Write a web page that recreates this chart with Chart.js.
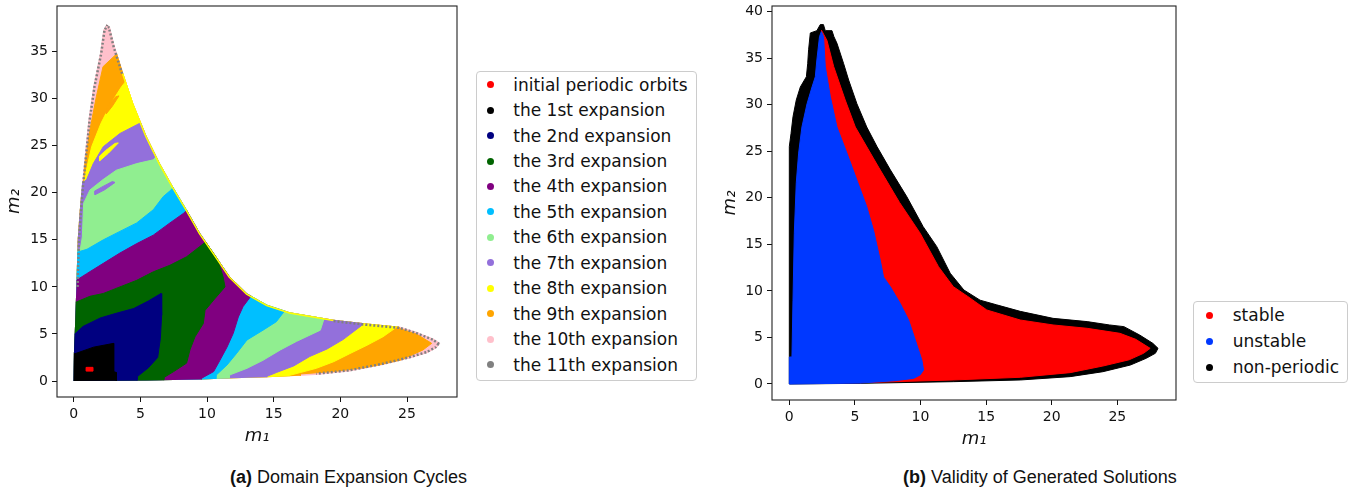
<!DOCTYPE html>
<html>
<head>
<meta charset="utf-8">
<title>Domain expansion cycles and solution validity</title>
<script src="https://cdn.jsdelivr.net/npm/chart.js@4.4.1/dist/chart.umd.min.js"></script>
<style>
  body { margin: 0; width: 1359px; height: 490px; background: #fff; position: relative; overflow: hidden; font-family: 'DejaVu Sans', sans-serif; }
  .panel { position: absolute; top: 0; }
  .legend { position: absolute; box-sizing: border-box; border: 1px solid #ccc; border-radius: 4px; background: #fff; font-size: 17px; color: #111; }
  .legend .row { display: flex; align-items: center; white-space: nowrap; }
  .legend .dot { width: 7px; height: 7px; border-radius: 50%; flex: none; }
  .caption { position: absolute; top: 467px; font-family: 'Liberation Sans', Arial, sans-serif; font-size: 18px; color: #111; white-space: nowrap; }
</style>
</head>
<body>
<canvas id="expansionChart" class="panel" style="left:0" width="460" height="450"></canvas>
<div id="expansionLegend" class="legend" style="left:476px; top:71px; width:221px; height:310px;"></div>
<canvas id="validityChart" class="panel" style="left:720px" width="460" height="455"></canvas>
<div id="validityLegend" class="legend" style="left:1193px; top:301px; width:155px; height:82px;"></div>
<div class="caption" style="left:230px;"><b>(a)</b> Domain Expansion Cycles</div>
<div class="caption" style="left:903px;"><b>(b)</b> Validity of Generated Solutions</div>
<script>
// ---- tick values ----
const m1Ticks = [0, 5, 10, 15, 20, 25];
const m2TicksA = [0, 5, 10, 15, 20, 25, 30, 35];
const m2TicksB = [0, 5, 10, 15, 20, 25, 30, 35, 40];

// ---- (a) expansion cycles ----
const expansionLabels = ['initial periodic orbits', 'the 1st expansion', 'the 2nd expansion', 'the 3rd expansion',
  'the 4th expansion', 'the 5th expansion', 'the 6th expansion', 'the 7th expansion', 'the 8th expansion',
  'the 9th expansion', 'the 10th expansion', 'the 11th expansion'];
const expansionColors = ['#ff0000', '#000000', '#000080', '#006400', '#800080', '#00bfff', '#90ee90',
  '#9370db', '#ffff00', '#ffa500', '#ffc0cb', '#808080'];

// outer edge of everything reached after the last expansion, [m1, m2]
const domainEdge = [[0, 0], [0.02, 3], [0.08, 5], [0.2, 10], [0.3, 15], [0.45, 18], [0.6, 20.6], [0.85, 24.2],
  [1.1, 27.7], [1.47, 31.3], [1.97, 34.8], [2.22, 37.3], [2.47, 37.9], [2.72, 37.65], [3.1, 35.5], [3.72, 32.7],
  [4.47, 29.5], [5.47, 26], [6.47, 23.1], [7.47, 20.6], [8.48, 18.2], [9.48, 15.7], [10.5, 13.6], [11.7, 11.1],
  [13, 9.3], [14.5, 8.1], [16.2, 7.3], [19.5, 6.5], [22, 6.1], [24.5, 5.77], [25.7, 5.24], [27, 4.5], [27.5, 4.0],
  [27.2, 3.47], [26.5, 2.94], [25.2, 2.4], [23.2, 1.7], [20.7, 1.0], [18.2, 0.64], [14.5, 0.4], [12, 0.28],
  [9.5, 0.17], [5.5, 0.05]];

const initialOrbits = [[0.95, 1.05], [1.45, 1.05], [1.45, 1.45], [0.95, 1.45]];

// area covered up to cycle k; points past the edge get clipped to domainEdge
const cycle1 = [[-2, 2.9], [0.1, 2.9], [1.5, 3.6], [3.0, 4.0], [3.0, 1.0], [3.2, 0.9], [3.2, -2], [-2, -2]];
const cycle2 = [[-2, 5.0], [0.1, 5.0], [0.7, 5.8], [2.0, 6.7], [3.2, 7.2], [4.5, 7.7], [5.6, 8.5], [6.55, 9.3],
  [6.6, 7.0], [6.5, 4.5], [6.3, 2.5], [5.6, 1.4], [4.8, 0.5], [4.6, -2], [-2, -2]];
const cycle3 = [[-2, 8.4], [0.2, 8.4], [1.22, 9.0], [2.22, 9.3], [3.47, 10.0], [4.73, 10.7], [5.97, 11.6],
  [7.22, 12.3], [8.47, 13.2], [9.47, 14.3], [10.0, 14.9], [10.5, 14.2], [11.2, 11.1], [11.35, 10.0], [10.5, 8.6],
  [9.85, 7.5], [9.72, 6.1], [9.1, 4.7], [8.72, 3.3], [8.47, 1.9], [7.5, 1.0], [6.8, 0.4], [6.6, -2], [-2, -2]];
const cycle4 = [[-2, 10.7], [0.2, 10.7], [0.97, 11.4], [2.22, 12.5], [3.47, 13.6], [4.73, 14.6], [5.97, 15.5],
  [7.22, 16.8], [8.22, 17.8], [9, 18.8], [12, 13.2], [13.6, 9.6], [12.7, 7.9], [12.35, 6.8], [11.97, 5.07],
  [11.5, 3.6], [10.97, 2.2], [10.5, 1.0], [9.6, 0.3], [9.4, -2], [-2, -2]];
const cycle5 = [[-2, 13.7], [0.3, 13.7], [1.0, 14.0], [2.22, 15.0], [3.47, 15.9], [4.73, 16.8], [5.97, 18.2],
  [6.72, 19.6], [7.3, 20.3], [8, 21.5], [15.5, 9], [15.9, 7.6], [15.2, 6.3], [14.2, 5.4], [13, 4.36], [12.2, 2.9],
  [11.5, 1.7], [10.7, 0.64], [10.6, -2], [-2, -2]];
const cycle6 = [[-2, 13.9], [0.5, 14.0], [0.65, 15.3], [0.75, 18.9], [1.22, 20.3], [2.2, 21.4], [3.2, 22.4],
  [4.73, 23.1], [5.97, 23.5], [6.6, 24.5], [19, 8], [18.8, 6.7], [18.5, 5.4], [16.7, 4.2], [15.5, 3.3],
  [14.2, 2.2], [13, 1.35], [11.7, 0.64], [11.5, -2], [-2, -2]];
const cycle7 = [[-2, 21.0], [0.6, 21.0], [0.97, 21.4], [1.47, 23.1], [2.22, 24.9], [3.47, 26.3], [4.97, 27.4],
  [5.6, 28.5], [22, 7.2], [21.6, 5.9], [20.2, 4.4], [19, 3.4], [17.7, 2.6], [16.5, 1.6], [15.2, 0.9],
  [14.5, 0.5], [14.3, -2], [-2, -2]];
const cycle8 = [[-2, 20.0], [0.6, 20.0], [0.72, 20.6], [0.95, 22.4], [1.35, 24.9], [2.05, 27.4], [2.8, 29.5],
  [3.6, 31.3], [4.3, 32.5], [25, 7], [24.2, 5.7], [23.2, 4.7], [22, 3.8], [20.7, 2.9], [19.5, 2.05],
  [18.2, 1.35], [17, 0.9], [16.2, 0.6], [16, -2], [-2, -2]];
const cycle9 = [[-2, 19], [0.5, 19], [0.72, 20.6], [0.85, 23.2], [1.22, 26.7], [1.7, 30.2], [2.2, 33.4],
  [3.1, 34.6], [4.0, 35.5], [24, 6.4], [24.5, 5.55], [25.7, 5.0], [26.85, 4.0], [26.2, 3.3], [24.5, 2.2],
  [22, 1.45], [19.5, 1.0], [17, 0.75], [17, -2], [-2, -2]];

// thin fingers of a later cycle reaching into the previous band
const wisp7 = [[1.6, 19.8], [2.3, 20.3], [3.1, 21.1], [2.9, 21.2], [2.1, 20.6], [1.6, 20.2]];
const wisp8 = [[1.95, 23.4], [2.6, 24.2], [3.35, 25.3], [3.1, 25.25], [2.4, 24.5], [1.95, 23.9]];
const wisp9 = [[2.45, 28.4], [2.9, 29.2], [3.4, 30.3], [3.15, 30.2], [2.7, 29.5], [2.45, 28.9]];

// ---- (b) validity ----
const validityLabels = ['stable', 'unstable', 'non-periodic'];
const validityColors = ['#ff0000', '#0038ff', '#000000'];

const nonPeriodicEdge = [[0, 0], [0, 25.5], [0.13, 26.9], [0.28, 28.7], [0.53, 30.5], [0.84, 31.9], [1.3, 33],
  [1.4, 34.4], [1.47, 35.9], [1.6, 37.7], [2.1, 37.95], [2.36, 38.6], [2.6, 38.6], [2.74, 37.95], [3.25, 37.95],
  [3.4, 37.3], [3.63, 36.6], [4.14, 34.4], [4.52, 32.65], [5.15, 30.1], [5.9, 27.6], [6.68, 25.5], [7.7, 23],
  [8.96, 20.1], [10.2, 16.9], [11.24, 14.75], [12.26, 11.9], [13.3, 10.1], [14.54, 9.0], [15.8, 8.5],
  [17.6, 7.8], [20.1, 7.05], [22.7, 6.7], [24.4, 6.34], [25.5, 6.16], [26.7, 5.26], [27.7, 4.37], [28.1, 3.83],
  [27.9, 3.3], [27.2, 2.76], [26, 2.04], [23.9, 1.32], [21.4, 0.79], [17.6, 0.43], [12.5, 0.25], [5.4, 0.07]];
const stableEdge = [[2.45, 38.0], [2.87, 36.9], [3.38, 34.1], [4.26, 30.5], [5.03, 27.6], [6.8, 23.3],
  [8.4, 19.5], [9.97, 16.2], [11.37, 12.6], [12.5, 10.45], [13.6, 9.4], [15.05, 7.95], [17.6, 6.87],
  [20.1, 6.34], [22.7, 5.98], [25.2, 5.44], [26.4, 4.8], [27.5, 3.83], [27.0, 3.3], [25.9, 2.6], [23.9, 1.93],
  [21.4, 1.22], [17.6, 0.72], [12.5, 0.43], [5.4, 0.14], [2, 0.1], [2, 25], [2.5, 36]];
const unstableEdge = [[0, 0], [0, 2.9], [0.2, 2.9], [0.28, 9], [0.38, 16.2], [0.53, 21.6], [0.71, 24.8],
  [0.96, 27.6], [1.35, 30.1], [1.73, 31.9], [1.98, 33], [2.1, 34.8], [2.3, 37.3], [2.44, 37.85], [2.61, 37.3],
  [2.74, 34.1], [3.12, 30.9], [3.63, 27.6], [4.39, 24.8], [5.15, 21.9], [5.9, 19.05], [6.42, 16.5],
  [6.93, 13.3], [7.18, 11.5], [7.7, 10.45], [8.45, 8.66], [9.09, 6.87], [9.6, 4.73], [10.1, 2.58],
  [10.23, 1.5], [9.97, 0.97], [9.47, 0.6], [8.0, 0.35], [5.4, 0.1]];

const FONT = 'DejaVu Sans';

// filled polygon through the scatter scales
function region(label, pts, color, order = 0) {
  const closed = pts.concat([pts[0]]);
  return {
    label, order,
    data: closed.map(([x, y]) => ({ x, y })),
    showLine: true, fill: 'shape', tension: 0,
    backgroundColor: color, borderColor: color, borderWidth: 1,
    pointRadius: 0, pointHoverRadius: 0
  };
}

// open stroke along part of an edge
function rim(label, pts, color, order, width, dash) {
  return {
    label, order,
    data: pts.map(([x, y]) => ({ x, y })),
    showLine: true, fill: false, tension: 0,
    borderColor: color, borderWidth: width, borderDash: dash,
    pointRadius: 0, pointHoverRadius: 0
  };
}

function axisOptions(min, max, ticks, size, titleText, titlePadding) {
  return {
    type: 'linear', min, max,
    afterBuildTicks: scale => { scale.ticks = ticks.map(value => ({ value })); },
    afterFit: scale => {
      if (scale.isHorizontal()) scale.height = size; else scale.width = size;
      scale.paddingLeft = scale.paddingRight = scale.paddingTop = scale.paddingBottom = 0;
    },
    border: { display: false },
    grid: { drawOnChartArea: false, drawTicks: true, tickLength: 5, color: '#111', lineWidth: 1 },
    ticks: { autoSkip: false, maxRotation: 0, padding: 4, color: '#111', font: { family: FONT, size: 14 } },
    title: { display: true, text: titleText, color: '#111', padding: titlePadding,
      font: { family: FONT, size: 18, style: 'italic' } }
  };
}

// box around the plot area (matplotlib style spines)
const frame = {
  id: 'frame',
  afterDraw(chart) {
    const { ctx, chartArea: a } = chart;
    ctx.save();
    ctx.strokeStyle = '#222';
    ctx.lineWidth = 1.1;
    ctx.strokeRect(a.left, a.top, a.right - a.left, a.bottom - a.top);
    ctx.restore();
  }
};

// keep the cycle fills inside the outer edge of the domain
const clipToDomain = {
  id: 'clipToDomain',
  beforeDatasetsDraw(chart) {
    const { ctx, scales: { x, y } } = chart;
    ctx.save();
    ctx.beginPath();
    domainEdge.forEach(([a, b], i) => {
      const px = x.getPixelForValue(a), py = y.getPixelForValue(b);
      if (i) ctx.lineTo(px, py); else ctx.moveTo(px, py);
    });
    ctx.closePath();
    ctx.clip();
  },
  afterDatasetsDraw(chart) { chart.ctx.restore(); }
};

const commonOptions = {
  responsive: false,
  animation: false,
  events: [],
  plugins: { legend: { display: false }, tooltip: { enabled: false } }
};

const cycles = [initialOrbits, cycle1, cycle2, cycle3, cycle4, cycle5, cycle6, cycle7, cycle8, cycle9, domainEdge];
const expansionSets = cycles.map((pts, i) => region(expansionLabels[i], pts, expansionColors[i]));
expansionSets.push(region(expansionLabels[7], wisp7, expansionColors[7], -0.5));
expansionSets.push(region(expansionLabels[8], wisp8, expansionColors[8], -0.5));
expansionSets.push(region(expansionLabels[9], wisp9, expansionColors[9], -0.5));
expansionSets.push(rim(expansionLabels[8], domainEdge.slice(15, 28), expansionColors[8], -1, 3, []));
expansionSets.push(rim(expansionLabels[11], domainEdge.slice(3, 16), expansionColors[11], -2, 5, [2, 2]));
expansionSets.push(rim(expansionLabels[11], domainEdge.slice(27, 39), expansionColors[11], -2, 5, [2, 2]));

new Chart(document.getElementById('expansionChart'), {
  type: 'scatter',
  data: { datasets: expansionSets },
  options: Object.assign({}, commonOptions, {
    layout: { padding: { top: 6, right: 3, left: 0, bottom: 0 } },
    scales: {
      x: axisOptions(-1.25, 28.75, m1Ticks, 53, 'm\u2081', { top: 0, bottom: 3 }),
      y: axisOptions(-1.7, 39.85, m2TicksA, 57, 'm\u2082', { top: 4, bottom: 0 })
    }
  }),
  plugins: [clipToDomain, frame]
});

new Chart(document.getElementById('validityChart'), {
  type: 'scatter',
  data: {
    datasets: [
      region(validityLabels[0], stableEdge, validityColors[0], 1),
      region(validityLabels[1], unstableEdge, validityColors[1], 0),
      region(validityLabels[2], nonPeriodicEdge, validityColors[2], 2)
    ]
  },
  options: Object.assign({}, commonOptions, {
    layout: { padding: { top: 6, right: 4, left: 0, bottom: 0 } },
    scales: {
      x: axisOptions(-1.32, 29.47, m1Ticks, 55, 'm\u2081', { top: 0, bottom: 5 }),
      y: axisOptions(-1.72, 40.6, m2TicksB, 52, 'm\u2082', { top: 0, bottom: 0 })
    }
  }),
  plugins: [frame]
});

function buildLegend(el, labels, colors, rowHeight, dotLeft, gap) {
  labels.forEach((label, i) => {
    const row = document.createElement('div');
    row.className = 'row';
    row.style.height = rowHeight + 'px';
    const dot = document.createElement('span');
    dot.className = 'dot';
    dot.style.background = colors[i];
    dot.style.marginLeft = dotLeft + 'px';
    dot.style.marginRight = gap + 'px';
    row.appendChild(dot);
    row.appendChild(document.createTextNode(label));
    el.appendChild(row);
  });
}

buildLegend(document.getElementById('expansionLegend'), expansionLabels, expansionColors, 25.45, 10.2, 19.1);
buildLegend(document.getElementById('validityLegend'), validityLabels, validityColors, 26, 11.8, 19.9);
</script>
</body>
</html>
